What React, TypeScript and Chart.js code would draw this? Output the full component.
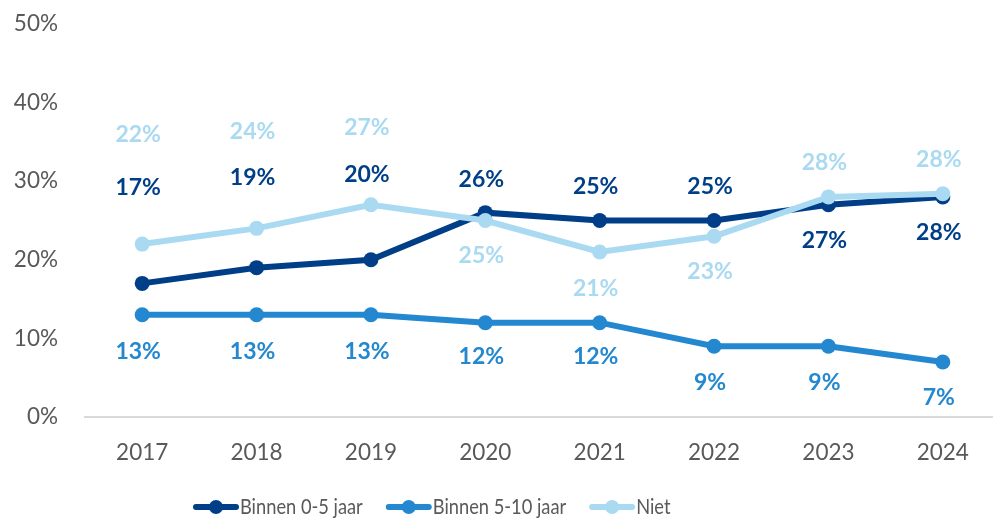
import React, { useEffect, useRef } from "react";
import { Chart, registerables } from "chart.js";

Chart.register(...registerables);

const years = ["2017", "2018", "2019", "2020", "2021", "2022", "2023", "2024"];
const binnen05 = [17, 19, 20, 26, 25, 25, 27, 28];
const binnen510 = [13, 13, 13, 12, 12, 9, 9, 7];
const niet = [22, 24, 27, 25, 21, 23, 28, 28.4];
const yTicks = [0, 10, 20, 30, 40, 50];
const seriesNames = ["Binnen 0-5 jaar", "Binnen 5-10 jaar", "Niet"];
const seriesColors = ["#003f87", "#2388cf", "#a9daf1"];

// label offsets in px (negative = above the point)
const labelOff05 = [-96, -90, -85, -33, -34, -34, 36, 36];
const labelOff510 = [37, 37, 37, 34, 34, 36, 36, 36];
const labelOffNiet = [-110, -97, -77, 35, 37, 35, -34, -34];

const FONT = "Lato, 'Open Sans', sans-serif";

const labelPlugin = {
  id: "pointLabels",
  afterDatasetsDraw(chart: any) {
    const ctx = chart.ctx;
    const offs = [labelOff05, labelOff510, labelOffNiet];
    ctx.save();
    ctx.font = `bold 23px ${FONT}`;
    ctx.textAlign = "center";
    ctx.textBaseline = "middle";
    chart.data.datasets.forEach((ds: any, di: number) => {
      const meta = chart.getDatasetMeta(di);
      ctx.fillStyle = seriesColors[di];
      meta.data.forEach((pt: any, i: number) => {
        const v = ds.data[i];
        ctx.fillText(Math.round(v) + "%", pt.x - 4, pt.y + offs[di][i]);
      });
    });
    ctx.restore();
  },
};

const LEGEND_SX = 0.87;
const legendPlugin = {
  id: "customLegend",
  afterDraw(chart: any) {
    const ctx = chart.ctx;
    ctx.save();
    ctx.font = `21px ${FONT}`;
    ctx.textBaseline = "middle";
    let x = 196;
    const y = 507;
    seriesNames.forEach((name, i) => {
      ctx.strokeStyle = seriesColors[i];
      ctx.lineWidth = 6;
      ctx.lineCap = "round";
      ctx.beginPath();
      ctx.moveTo(x, y);
      ctx.lineTo(x + 40, y);
      ctx.stroke();
      ctx.fillStyle = seriesColors[i];
      ctx.beginPath();
      ctx.arc(x + 20, y, 7, 0, Math.PI * 2);
      ctx.fill();
      ctx.fillStyle = "#595959";
      ctx.textAlign = "left";
      ctx.save();
      ctx.translate(x + 44, y);
      ctx.scale(LEGEND_SX, 1);
      ctx.fillText(name, 0, 0);
      ctx.restore();
      x += 44 + ctx.measureText(name).width * LEGEND_SX + 26;
    });
    ctx.restore();
  },
};

export default function App() {
  const ref = useRef<HTMLCanvasElement | null>(null);
  useEffect(() => {
    document.body.style.margin = "0";
    document.body.style.overflow = "hidden";
    const canvas = ref.current!;
    const mk = (data: number[], i: number, order: number) => ({
      label: seriesNames[i],
      data,
      borderColor: seriesColors[i],
      backgroundColor: seriesColors[i],
      pointBackgroundColor: seriesColors[i],
      pointBorderColor: seriesColors[i],
      borderWidth: 6,
      pointRadius: 7.5,
      pointBorderWidth: 0,
      tension: 0,
      order,
    });
    const chart = new Chart(canvas, {
      type: "line",
      data: {
        labels: years,
        datasets: [mk(binnen05, 0, 2), mk(binnen510, 1, 1), mk(niet, 2, 0)],
      },
      options: {
        animation: false,
        responsive: false,
        layout: { autoPadding: false, padding: { left: 0, right: 0, top: 24, bottom: 30 } },
        plugins: { legend: { display: false }, tooltip: { enabled: false } },
        scales: {
          x: {
            offset: true,
            grid: { display: false, drawTicks: false },
            border: { display: true, color: "#d9d9d9", width: 2 },
            ticks: { color: "#595959", font: { family: FONT, size: 22.5 }, padding: 22 },
          },
          y: {
            min: 0,
            max: 50,
            afterBuildTicks: (axis: any) => {
              axis.ticks = yTicks.map((v) => ({ value: v }));
            },
            afterFit: (axis: any) => {
              axis.width = 85;
              axis.paddingTop = 0;
              axis.paddingBottom = 0;
            },
            grid: { display: false, drawTicks: false },
            border: { display: false },
            ticks: {
              color: "#595959",
              font: { family: FONT, size: 22.5 },
              padding: 27,
              callback: (v: any) => v + "%",
            },
          },
        },
      },
      plugins: [labelPlugin, legendPlugin],
    });
    return () => chart.destroy();
  }, []);
  return (
    <div style={{ width: 993, height: 518, overflow: "hidden" }}>
      <canvas ref={ref} width={1000} height={518} style={{ display: "block" }} />
    </div>
  );
}
